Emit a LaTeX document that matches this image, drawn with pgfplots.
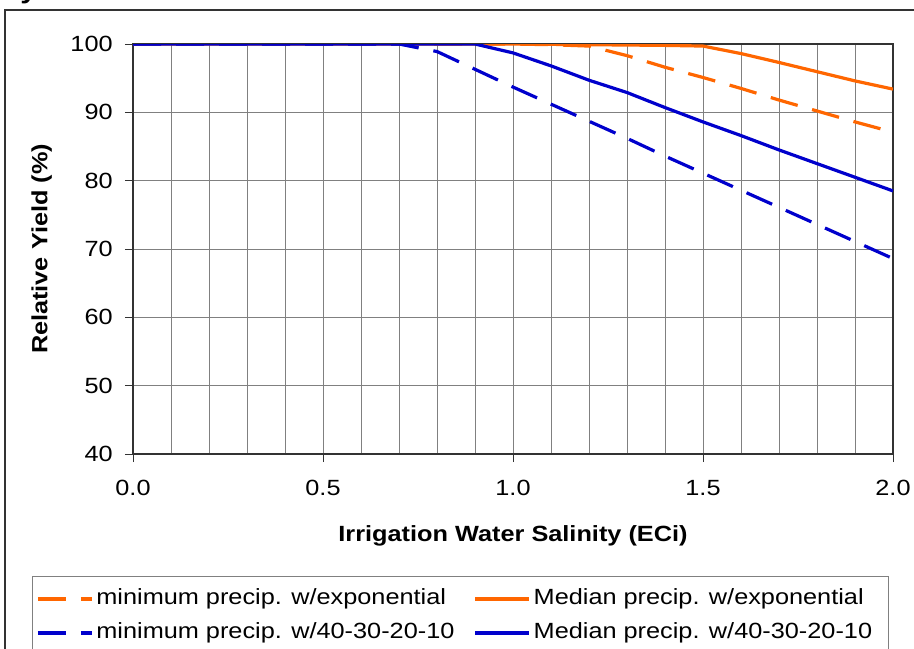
\documentclass[border=0pt]{standalone}
\usepackage{fontspec}
\setmainfont{Liberation Sans}[FakeStretch=1.15]
\usepackage{pgfplots}
\usepackage{pgfplotstable}
\pgfplotsset{compat=1.18}

\definecolor{xlorange}{HTML}{FF6600}
\definecolor{xlblue}{HTML}{0000CC}
\definecolor{gridgray}{HTML}{808080}

% relative yield vs irrigation water salinity
\pgfplotstableread{
ec   minexp  medexp  minlin  medlin
0.0  100     100     100     100
0.1  100     100     100     100
0.2  100     100     100     100
0.3  100     100     100     100
0.4  100     100     100     100
0.5  100     100     100     100
0.6  100     100     100     100
0.7  100     100     100     100
0.8  100     100     98.9    100
0.9  100     100     96.3    100
1.0  100     100     93.7    98.7
1.1  99.9    99.95   91.2    96.8
1.2  99.7    99.9    88.7    94.7
1.3  98.3    99.85   86.2    92.9
1.4  96.6    99.8    83.6    90.7
1.5  95.1    99.7    81.1    88.6
1.6  93.5    98.6    78.6    86.6
1.7  91.8    97.3    76.1    84.5
1.8  90.2    95.95   73.6    82.5
1.9  88.6    94.6    71.1    80.5
2.0  87.1    93.4    68.6    78.5
}\yieldtable

\begin{document}
\fontsize{11}{13}\selectfont
\begin{tikzpicture}
\useasboundingbox (0pt,0pt) rectangle (457pt,-324pt);
\draw[black!80, line width=0.75pt] (2.5pt,-5pt) rectangle (490pt,-360pt);
\node[font=\fontsize{13}{15}\selectfont\bfseries, anchor=base west, inner sep=0pt] at (10pt,0.8pt) {y};
\begin{axis}[
    at={(66.5pt,-227pt)}, anchor=south west,
    scale only axis, width=380pt, height=205pt,
    xmin=0, xmax=2, ymin=40, ymax=100,
    xtick={0,0.5,1,1.5,2},
    minor xtick={0.1,0.2,0.3,0.4,0.6,0.7,0.8,0.9,1.1,1.2,1.3,1.4,1.6,1.7,1.8,1.9},
    ytick={40,50,60,70,80,90,100},
    grid=both,
    major grid style={gridgray, line width=0.5pt},
    minor grid style={gridgray, line width=0.5pt},
    axis line style={black!80, line width=0.6pt},
    tick align=outside, tick pos=left,
    major tick length=4pt, minor tick length=0pt,
    tick style={black!80, line width=0.5pt},
    /pgf/number format/assume math mode=true,
    xticklabel style={yshift=-5.3pt, /pgf/number format/.cd, fixed, fixed zerofill, precision=1},
    yticklabel style={xshift=-2.3pt},
    xlabel={\bfseries Irrigation Water Salinity (ECi)},
    ylabel={\bfseries Relative Yield (\%)},
    xlabel style={at={(axis description cs:0.5,-0.2)}, anchor=center},
    ylabel style={at={(axis description cs:-0.12,0.5)}, anchor=center},
    legend columns=2,
    legend cell align=left,
    legend style={at={(rel axis cs:-0.1333,-0.2975)}, anchor=north west,
        draw=gray, line width=0.5pt, inner xsep=2pt, inner ysep=4.5pt,
        nodes={inner sep=1.5pt, text height=8pt, text depth=2.5pt},
        row sep=3.5pt,
        /tikz/every even column/.append style={column sep=8pt}},
    legend image code/.code={\draw[#1] (0pt,0pt) -- (27pt,0pt);},
    every axis plot/.append style={line width=1.6pt, mark=none},
]
\addplot[xlorange, dash pattern=on 14pt off 7.5pt] table[x=ec, y=minexp] {\yieldtable};
\addlegendentry{minimum precip. w/exponential}
\addplot[xlorange] table[x=ec, y=medexp] {\yieldtable};
\addlegendentry{Median precip. w/exponential\rule{9pt}{0pt}}
\addplot[xlblue, dash pattern=on 14pt off 7.5pt] table[x=ec, y=minlin] {\yieldtable};
\addlegendentry{minimum precip. w/40-30-20-10}
\addplot[xlblue] table[x=ec, y=medlin] {\yieldtable};
\addlegendentry{Median precip. w/40-30-20-10}
\end{axis}
\end{tikzpicture}
\end{document}
